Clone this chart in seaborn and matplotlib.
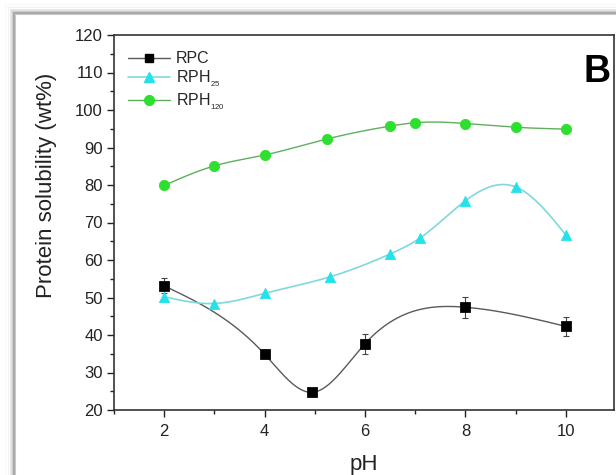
import numpy as np
import pandas as pd
import seaborn as sns
import matplotlib.pyplot as plt
from matplotlib.lines import Line2D
from matplotlib.ticker import MultipleLocator

# valeurs
ph_rpc = [2, 4, 4.94, 6, 8, 10]
sol_rpc = [53.1, 34.9, 24.7, 37.7, 47.4, 42.3]
err_rpc = [2.0, 0.8, 0.5, 2.7, 2.8, 2.6]

ph_rph25 = [2, 3, 4, 5.3, 6.5, 7.1, 8, 9, 10]
sol_rph25 = [50.2, 48.4, 51.1, 55.5, 61.6, 65.9, 75.8, 79.5, 66.7]

ph_rph120 = [2, 3, 4, 5.25, 6.5, 7.0, 8, 9, 10]
sol_rph120 = [79.9, 85.1, 88.0, 92.3, 95.7, 96.6, 96.4, 95.4, 94.9]

labels = ['RPC', r'RPH$_{_{25}}$', r'RPH$_{_{120}}$']


def spline(x, y, n=300):
    # spline cubique naturelle (comme le lissage d'Origin)
    x = np.asarray(x, float)
    y = np.asarray(y, float)
    k = len(x)
    h = np.diff(x)
    A = np.zeros((k, k))
    b = np.zeros(k)
    A[0, 0] = A[-1, -1] = 1
    for i in range(1, k - 1):
        A[i, i - 1] = h[i - 1]
        A[i, i] = 2 * (h[i - 1] + h[i])
        A[i, i + 1] = h[i]
        b[i] = 3 * ((y[i + 1] - y[i]) / h[i] - (y[i] - y[i - 1]) / h[i - 1])
    c = np.linalg.solve(A, b)
    bb = (y[1:] - y[:-1]) / h - h * (2 * c[:-1] + c[1:]) / 3
    d = (c[1:] - c[:-1]) / (3 * h)
    xs = np.linspace(x[0], x[-1], n)
    idx = np.clip(np.searchsorted(x, xs) - 1, 0, k - 2)
    dx = xs - x[idx]
    ys = y[idx] + bb[idx] * dx + c[idx] * dx ** 2 + d[idx] * dx ** 3
    return pd.DataFrame({'pH': xs, 'sol': ys})


sns.set_style('ticks')
plt.rcParams['font.family'] = ['Liberation Sans', 'DejaVu Sans']
plt.rcParams['mathtext.fontset'] = 'custom'
plt.rcParams['mathtext.rm'] = 'Liberation Sans'
plt.rcParams['mathtext.it'] = 'Liberation Sans'

fig = plt.figure(figsize=(6.16, 4.75), dpi=100)
fig.patch.set_facecolor('white')

# cadre de la capture d'ecran
W, H = 616, 475
for off, col in [(0, '#a9a9a9'), (1, '#a9a9a9'), (2, '#c9c9c9'), (-1, '#cfcfcf'),
                 (-2, '#dedede'), (-3, '#e9e9e9'), (-5, '#f2f2f2'), (-8, '#f8f8f8')]:
    x0 = 13 + off
    y0 = H - 12 - off
    fig.add_artist(Line2D([x0 / W, x0 / W], [0, y0 / H], color=col, lw=0.75,
                          transform=fig.transFigure))
    fig.add_artist(Line2D([x0 / W, 1], [y0 / H, y0 / H], color=col, lw=0.75,
                          transform=fig.transFigure))

ax = fig.add_axes([114 / W, 65 / H, 500 / W, 375 / H])

c_rpc, c_25, c_120 = 'black', '#25e2ea', '#2fdf2f'
l_rpc, l_25, l_120 = '#5a5a5a', '#7fd9dc', '#5faf5f'

sns.lineplot(data=spline(ph_rpc, sol_rpc), x='pH', y='sol', sort=False, ax=ax,
             color=l_rpc, lw=1.0)
sns.lineplot(data=spline(ph_rph25, sol_rph25), x='pH', y='sol', sort=False, ax=ax,
             color=l_25, lw=1.2)
sns.lineplot(data=spline(ph_rph120, sol_rph120), x='pH', y='sol', sort=False, ax=ax,
             color=l_120, lw=1.0)

ax.errorbar(ph_rpc, sol_rpc, yerr=err_rpc, fmt='none', ecolor='#444444',
            elinewidth=0.8, capsize=2.5, capthick=0.8, zorder=3)
sns.scatterplot(x=ph_rpc, y=sol_rpc, marker='s', s=48, color=c_rpc,
                edgecolor=c_rpc, ax=ax, zorder=4)
sns.scatterplot(x=ph_rph25, y=sol_rph25, marker='^', s=55, color=c_25,
                edgecolor=c_25, ax=ax, zorder=4)
sns.scatterplot(x=ph_rph120, y=sol_rph120, marker='o', s=55, color=c_120,
                edgecolor=c_120, ax=ax, zorder=4)

ax.set_xlim(1, 10.96)
ax.set_ylim(20, 120)
ax.xaxis.set_major_locator(MultipleLocator(2))
ax.xaxis.set_minor_locator(MultipleLocator(1))
ax.yaxis.set_major_locator(MultipleLocator(10))
ax.yaxis.set_minor_locator(MultipleLocator(5))
ax.tick_params(which='major', direction='out', length=5, width=1, colors='#222222',
               labelsize=12, labelcolor='#222222')
ax.tick_params(which='minor', direction='out', length=3, width=1, colors='#222222')
ax.tick_params(axis='y', pad=3)
ax.tick_params(axis='x', pad=5)
for s in ax.spines.values():
    s.set_color('#333333')
    s.set_linewidth(1.2)

ax.set_xlabel('pH', fontsize=16, color='#222222')
ax.set_ylabel('Protein solubility (wt%)', fontsize=16, color='#222222')
ax.xaxis.set_label_coords(0.5, -0.118)
ax.yaxis.set_label_coords(-0.114, 0.60)

ax.text(0.94, 0.875, 'B', transform=ax.transAxes, fontsize=27, fontweight='bold',
        color='black', ha='left', va='baseline')

handles = [
    Line2D([], [], color=l_rpc, lw=1, marker='s', markersize=6, markerfacecolor=c_rpc,
           markeredgecolor=c_rpc),
    Line2D([], [], color=l_25, lw=1.2, marker='^', markersize=7, markerfacecolor=c_25,
           markeredgecolor=c_25),
    Line2D([], [], color=l_120, lw=1, marker='o', markersize=7, markerfacecolor=c_120,
           markeredgecolor=c_120),
]
ax.legend(handles, labels, loc='upper left', bbox_to_anchor=(0.028, 0.957),
          frameon=False, fontsize=11.5, handlelength=2.6, handletextpad=0.4,
          labelspacing=0.15, borderpad=0, borderaxespad=0)

fig.savefig('out.png', dpi=100)
